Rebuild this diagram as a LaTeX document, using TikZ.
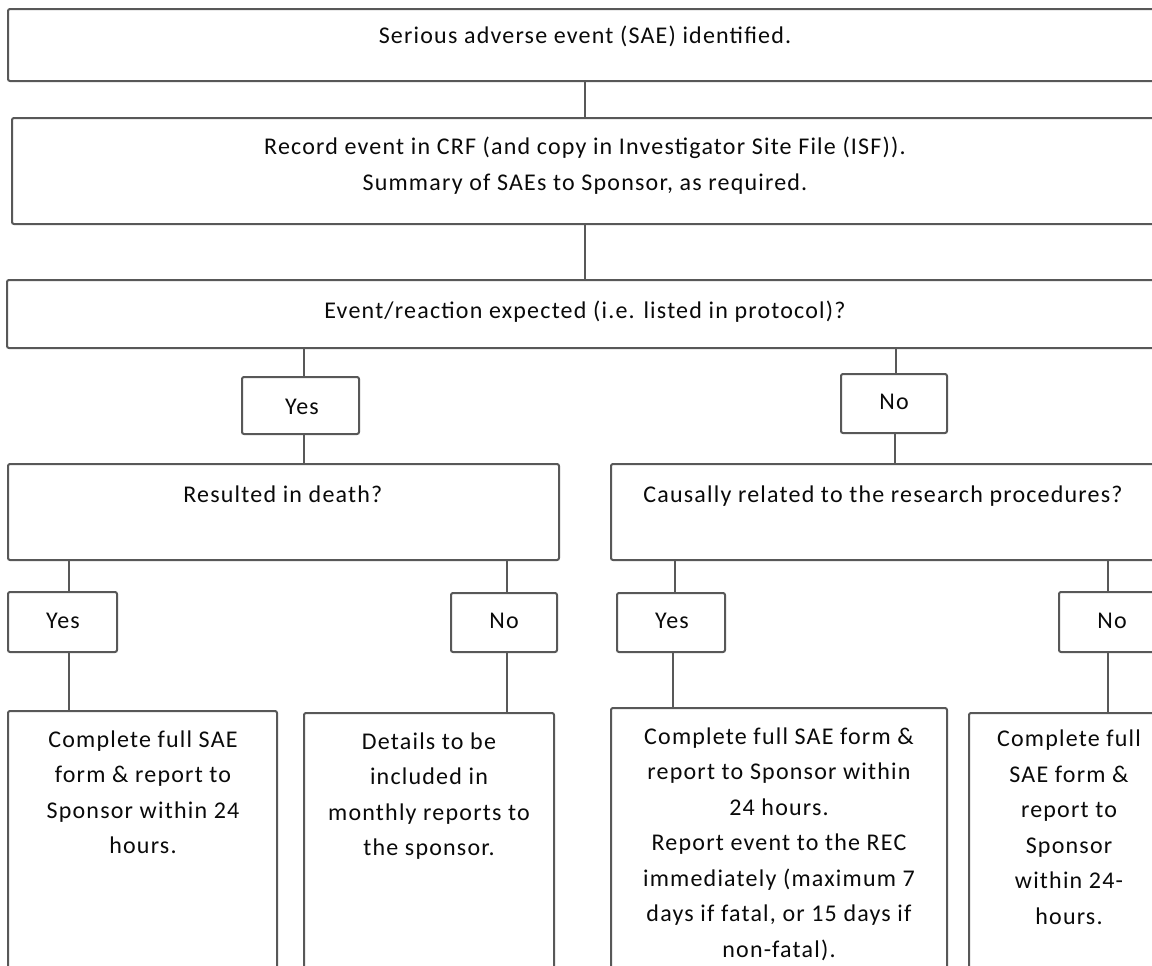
\documentclass[tikz,border=0pt]{standalone}
\usepackage{fontspec}
\setmainfont{Carlito}[LetterSpace=5]
\usetikzlibrary{fit}
\definecolor{linec}{RGB}{88,88,88}
\definecolor{txtc}{RGB}{10,10,10}
\tikzset{
  box/.style={draw=linec, line width=1pt, rounded corners=1pt, inner sep=0pt},
  conn/.style={draw=linec, line width=1pt},
  txt/.style={text=txtc, font=\fontsize{12pt}{17.75pt}\selectfont, inner sep=0pt, align=center},
}
\begin{document}
\begin{tikzpicture}[x=0.5pt,y=-0.5pt]
\useasboundingbox (0,0) rectangle (1152,965);
\clip (0,0) rectangle (1152,965);
\fill[white] (0,0) rectangle (1152,965);
% boxes
\node[box, fit={(8,9) (1162,81)}] (b1) {};
\node[box, fit={(12,118) (1158,224)}] (b2) {};
\node[box, fit={(7,280) (1163,348)}] (b3) {};
\node[box, fit={(242,377) (359,434)}] (y1) {};
\node[box, fit={(841,374) (947,433)}] (n1) {};
\node[box, fit={(8,464) (559,560)}] (r4l) {};
\node[box, fit={(611,464) (1170,560)}] (r4r) {};
\node[box, fit={(8,592) (117,652)}] (y2) {};
\node[box, fit={(451,593) (557,652)}] (n2) {};
\node[box, fit={(617,593) (725,652)}] (y3) {};
\node[box, fit={(1059,592) (1157,652)}] (n3) {};
\node[box, fit={(8,711) (277,1000)}] (bb1) {};
\node[box, fit={(304,713) (554,1000)}] (bb2) {};
\node[box, fit={(611,708) (947,1000)}] (bb3) {};
\node[box, fit={(969,713) (1169,1000)}] (bb4) {};
% connectors
\draw[conn] (b1.south) -- (b2.north);
\draw[conn] (b2.south) -- (b3.north);
\draw[conn] ([xshift=1.5pt]y1.north) -- ([xshift=1.5pt]y1.north |- b3.south);
\draw[conn] ([xshift=1.5pt]y1.south) -- ([xshift=1.5pt]y1.south |- r4l.north);
\draw[conn] ([xshift=1pt]n1.north) -- ([xshift=1pt]n1.north |- b3.south);
\draw[conn] ([xshift=0.5pt]n1.south) -- ([xshift=0.5pt]n1.south |- r4r.north);
\draw[conn] ([xshift=3.25pt]y2.north) -- ([xshift=3.25pt]y2.north |- r4l.south);
\draw[conn] ([xshift=3.25pt]y2.south) -- ([xshift=3.25pt]y2.south |- bb1.north);
\draw[conn] ([xshift=1.5pt]n2.north) -- ([xshift=1.5pt]n2.north |- r4l.south);
\draw[conn] ([xshift=1.5pt]n2.south) -- ([xshift=1.5pt]n2.south |- bb2.north);
\draw[conn] ([xshift=2pt]y3.north) -- ([xshift=2pt]y3.north |- r4r.south);
\draw[conn] ([xshift=1pt]y3.south) -- ([xshift=1pt]y3.south |- bb3.north);
\draw[conn] (n3.north) -- (n3.north |- r4r.south);
\draw[conn] (n3.south) -- (n3.south |- bb4.north);
% texts (base anchor = baseline of the last line)
\node[txt, anchor=base] (t1) at (585,43) {Serious adverse event (SAE) identified.};
\node[txt, anchor=base] (t2) at (585,190) {Record event in CRF (and copy in Investigator Site File (ISF)).\\Summary of SAEs to Sponsor, as required.};
\node[txt, anchor=base] (t3) at (585,318) {Event/reaction expected (i.e. listed in protocol)?};
\node[txt, anchor=base] (ty1) at (302,414) {Yes};
\node[txt, anchor=base] (tn1) at (894,409) {No};
\node[txt, anchor=base west] (t4l) at (183,502) {Resulted in death?};
\node[txt, anchor=base west] (t4r) at (643,502) {Causally related to the research procedures?};
\node[txt, anchor=base] (ty2) at (63,628) {Yes};
\node[txt, anchor=base] (tn2) at (504,628) {No};
\node[txt, anchor=base] (ty3) at (672,628) {Yes};
\node[txt, anchor=base] (tn3) at (1112,628) {No};
\node[txt, anchor=base] (tb1) at (143,853.5) {Complete full SAE\\form \& report to\\Sponsor within 24\\hours.};
\node[txt, anchor=base] (tb2) at (429,855.5) {Details to be\\included in\\monthly reports to\\the sponsor.};
\node[txt, anchor=base] (tb3) at (779,957) {Complete full SAE form \&\\report to Sponsor within\\24 hours.\\Report event to the REC\\immediately (maximum 7\\days if fatal, or 15 days if\\non-fatal).};
\node[txt, anchor=base] (tb4) at (1069,924) {Complete full\\SAE form \&\\report to\\Sponsor\\within 24-\\hours.};
\end{tikzpicture}
\end{document}
